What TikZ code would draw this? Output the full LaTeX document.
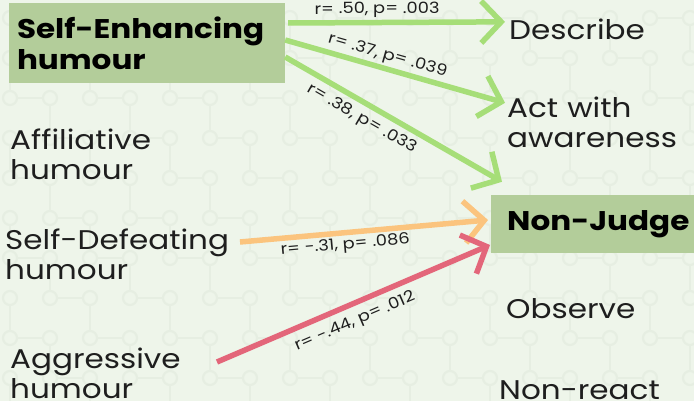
\documentclass[tikz,border=0pt]{standalone}
\usepackage{fontspec}
\setmainfont{Poppins}[FakeStretch=1.15]
\usetikzlibrary{arrows.meta}

\definecolor{bgcol}{HTML}{EEF5EA}
\definecolor{motifcol}{HTML}{E6EEE2}
\definecolor{boxcol}{HTML}{B3CD9A}
\definecolor{posgreen}{HTML}{A6DE78}
\definecolor{weakorange}{HTML}{FBC47E}
\definecolor{negred}{HTML}{E3667A}
\definecolor{inkcol}{HTML}{1E1E1E}

\tikzset{
  hbox/.style={fill=boxcol, draw=none, font=\fontsize{27}{31}\selectfont\bfseries,
               text=black, align=left, inner sep=0pt},
  factor/.style={font=\fontsize{27}{30}\selectfont, text=inkcol, inner sep=4pt, anchor=base west},
  corr/.style={-{Straight Barb[length=20pt,width=42pt]}, line width=5.5pt},
  stat/.style={font=\fontsize{15.5}{17}\selectfont, text=inkcol, sloped, inner sep=2pt},
  motif/.style={draw=motifcol, line width=2.2pt},
}

\begin{document}
\begin{tikzpicture}[x=1pt,y=-1pt]
\useasboundingbox (0,0) rectangle (694,401);
\fill[bgcol] (0,0) rectangle (694,401);

% faint dumbbell motif in the background
\foreach \i in {0,...,17}{
  \foreach \j in {0,...,10}{
    \pgfmathsetmacro{\cx}{\i*40+10}
    \pgfmathsetmacro{\cy}{\j*40+18}
    \draw[motif] (\cx,\cy) circle (7pt);
    \pgfmathparse{int(mod(\i+\j,2))}
    \ifnum\pgfmathresult=0
      \draw[motif] (\cx+7,\cy) -- (\cx+33,\cy);
    \else
      \draw[motif] (\cx,\cy+7) -- (\cx,\cy+33);
    \fi
  }
}

% humour styles (left) and mindfulness facets (right)
\node[hbox, minimum width=276pt, minimum height=80pt, text width=260pt] (se) at (147,43)
  {Self-Enhancing\\humour};
\node[factor, text width=200pt] (aff) at (6,150) {Affiliative\\humour};
\node[factor, text width=240pt] (sd) at (1,250) {Self-Defeating\\humour};
\node[factor, text width=200pt] (ag) at (6,368) {Aggressive\\humour};

\node[factor] (desc) at (505,40) {Describe};
\node[factor, text width=180pt] (act) at (503,118) {Act with\\awareness};
\node[hbox, anchor=west, minimum height=58pt, text width=171pt, inner xsep=16pt] (nj) at (491,224)
  {\mbox{Non-Judge}};
\node[factor] (obs) at (502,318) {Observe};
\node[factor] (nr) at (495,399) {Non-react};

% significant and marginal correlations
\draw[corr, posgreen] ([xshift=3pt,yshift=20pt]se.east) -- ([yshift=8pt]desc.west)
  node[stat, above, pos=0.41] {r= .50, p= .003};
\draw[corr, posgreen] ([yshift=3pt]se.east) -- ([xshift=2pt,yshift=20pt]act.west)
  node[stat, above, pos=0.45] {r= .37, p= .039};
\draw[corr, posgreen] ([yshift=-14pt]se.east) -- ([xshift=11pt,yshift=13pt]nj.north west)
  node[stat, below=3pt, pos=0.39] {r= .38, p= .033};
\draw[corr, weakorange] ([xshift=239pt,yshift=8pt]sd.base west) -- ([xshift=-3pt,yshift=4pt]nj.west)
  node[stat, below, pos=0.42] {r= -.31, p= .086};
\draw[corr, negred] ([xshift=211pt,yshift=6pt]ag.base west) -- ([xshift=-1pt,yshift=-21pt]nj.west)
  node[stat, below=5pt, pos=0.48] {r= -.44, p= .012};
\end{tikzpicture}
\end{document}
